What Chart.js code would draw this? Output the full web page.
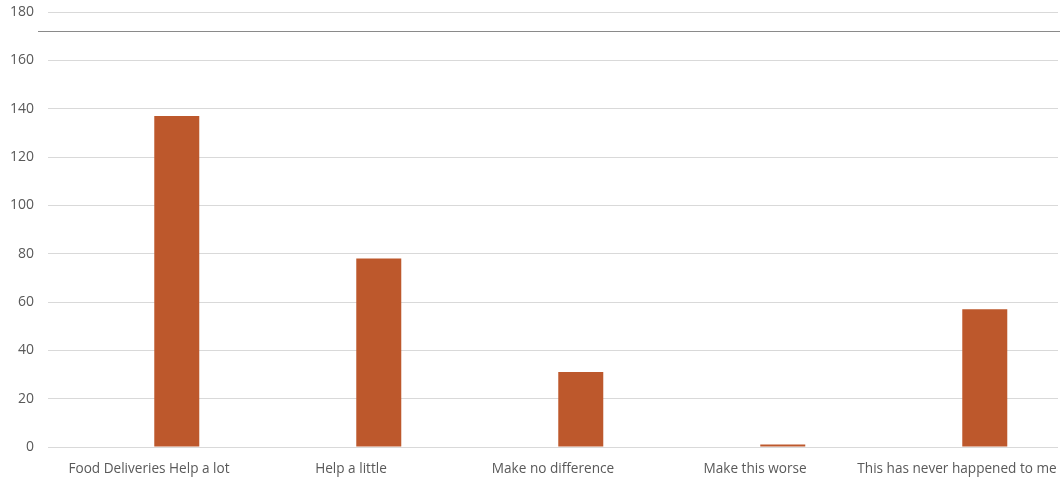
<!DOCTYPE html>
<html>
<head>
<meta charset="utf-8">
<script src="https://cdn.jsdelivr.net/npm/chart.js@4"></script>
<style>
	html, body { margin: 0; padding: 0; background: #fff; }
	.wrap { position: relative; width: 1060px; height: 481px; }
	.top-rule { position: absolute; left: 38px; right: 0; top: 31px; height: 1px; background: #8a8a8a; }
</style>
</head>
<body>
<div class="wrap">
	<canvas id="chart" width="1060" height="481"></canvas>
	<div class="top-rule"></div>
</div>
<script>
// --- Data ---
const categories = [
	"Food Deliveries Help a lot",
	"Help a little",
	"Make no difference",
	"Make this worse",
	"This has never happened to me",
];
const emptySeries = [null, null, null, null, null]; // blank first series in the source
const responses = [137, 78, 31, 1, 57];
const yTicks = [0, 20, 40, 60, 80, 100, 120, 140, 160, 180];

const textColor = "#595959";
const gridColor = "#d9d9d9";
const barColor = "#bd582c";

const ctx = document.getElementById("chart");

new Chart(ctx, {
	type: "bar",
	data: {
		labels: categories,
		datasets: [
			{
				label: "Series 1",
				data: emptySeries,
				backgroundColor: "#4472c4",
				categoryPercentage: 0.55,
				barPercentage: 0.81,
			},
			{
				label: "Responses",
				data: responses,
				backgroundColor: barColor,
				borderWidth: 0,
				categoryPercentage: 0.55,
				barPercentage: 0.81,
			},
		],
	},
	options: {
		responsive: false,
		animation: false,
		layout: {
			padding: { top: 0, right: 2, left: 1, bottom: 0 },
		},
		plugins: {
			legend: { display: false },
			tooltip: { enabled: false },
		},
		scales: {
			y: {
				min: 0,
				max: 180,
				afterBuildTicks: function (scale) {
					scale.ticks = yTicks.map((v) => ({ value: v }));
				},
				afterFit: function (scale) {
					scale.width = 47;
					// keep the top gridline close to the canvas edge
					scale.paddingTop = 12;
					scale.paddingBottom = 0;
				},
				ticks: {
					color: textColor,
					font: { family: "Open Sans", size: 14 },
					padding: 14,
				},
				grid: {
					color: gridColor,
					lineWidth: 1,
					drawTicks: false,
				},
				border: { display: false },
			},
			x: {
				afterFit: function (scale) {
					scale.height = 34;
					scale.paddingLeft = 0;
					scale.paddingRight = 0;
				},
				ticks: {
					color: textColor,
					font: { family: "Open Sans", size: 13.6 },
					padding: 6,
					maxRotation: 0,
					autoSkip: false,
				},
				grid: { display: false },
				border: { display: false },
			},
		},
	},
});
</script>
</body>
</html>
